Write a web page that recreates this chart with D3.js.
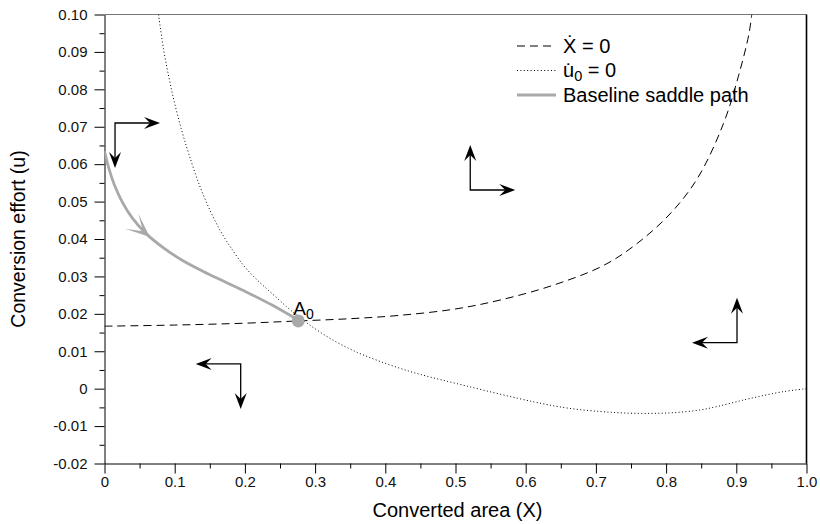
<!DOCTYPE html>
<html>
<head>
<meta charset="utf-8">
<script src="https://cdn.jsdelivr.net/npm/d3@7"></script>
<style>
  body { margin: 0; background: #fff; }
  svg { display: block; font-family: "Liberation Sans", Arial, Helvetica, sans-serif; }
</style>
</head>
<body>
<script>
// X-dot = 0 isocline (dashed)
const xDotX = [0, 0.1, 0.2, 0.276, 0.35, 0.421, 0.5, 0.566, 0.64, 0.7106, 0.7587, 0.807, 0.8456, 0.8818, 0.903, 0.918, 0.922]
const xDotU = [0.0167, 0.0170, 0.0175, 0.0181, 0.0187, 0.0196, 0.0213, 0.0238, 0.0277, 0.0329, 0.0388, 0.0470, 0.0565, 0.0709, 0.0835, 0.0948, 0.100]

// u0-dot = 0 isocline (dotted)
const uDotX = [0.077, 0.084, 0.092, 0.100, 0.110, 0.120, 0.135, 0.150, 0.165, 0.180, 0.200, 0.220, 0.240, 0.260, 0.276, 0.300, 0.330, 0.360, 0.388, 0.420, 0.450, 0.516, 0.611, 0.660, 0.706, 0.740, 0.777, 0.812, 0.848, 0.872, 0.896, 0.920, 0.967, 1.0]
const uDotU = [0.1000, 0.0908, 0.0830, 0.0762, 0.0690, 0.0628, 0.0545, 0.0478, 0.0422, 0.0377, 0.0325, 0.0286, 0.0252, 0.0218, 0.0193, 0.0160, 0.0125, 0.0097, 0.0076, 0.0055, 0.0038, 0.0007, -0.0035, -0.0052, -0.0061, -0.0065, -0.0066, -0.0064, -0.0057, -0.0048, -0.0037, -0.0026, -0.0008, 0.0]

// baseline saddle path (grey)
const saddleX = [0, 0.006, 0.014, 0.025, 0.04, 0.06, 0.085, 0.11, 0.14, 0.17, 0.2026, 0.24, 0.276]
const saddleU = [0.0635, 0.0590, 0.0545, 0.0500, 0.0455, 0.0413, 0.0375, 0.0344, 0.0314, 0.0287, 0.0258, 0.0222, 0.0183]
const saddleArrowAt = 0.065

// steady state A0
const a0X = 0.276
const a0U = 0.0181

// phase arrows: corner, horizontal direction (+1 right), vertical direction (+1 up)
const arrowX = [0.015, 0.521, 0.901, 0.194]
const arrowU = [0.071, 0.0531, 0.0123, 0.0066]
const arrowH = [1, 1, -1, -1]
const arrowV = [-1, 1, 1, -1]

const xTicks = [0, 0.1, 0.2, 0.3, 0.4, 0.5, 0.6, 0.7, 0.8, 0.9, 1.0]
const xTickLabels = ["0", "0.1", "0.2", "0.3", "0.4", "0.5", "0.6", "0.7", "0.8", "0.9", "1.0"]
const xMinor = [0.05, 0.15, 0.25, 0.35, 0.45, 0.55, 0.65, 0.75, 0.85, 0.95]
const yTicks = [-0.02, -0.01, 0, 0.01, 0.02, 0.03, 0.04, 0.05, 0.06, 0.07, 0.08, 0.09, 0.10]
const yTickLabels = ["-0.02", "-0.01", "0", "0.01", "0.02", "0.03", "0.04", "0.05", "0.06", "0.07", "0.08", "0.09", "0.10"]
const yMinor = [-0.015, -0.005, 0.005, 0.015, 0.025, 0.035, 0.045, 0.055, 0.065, 0.075, 0.085, 0.095]

const width = 820
const height = 524
const grey = "#a9a9a9"

const x = d3.scaleLinear().domain([0, 1]).range([104.5, 806.5])
const y = d3.scaleLinear().domain([-0.02, 0.10]).range([463.5, 14.5])

const svg = d3.select("body")
    .append("svg")
    .attr("width", width)
    .attr("height", height)

svg.append("defs")
    .append("clipPath")
    .attr("id", "plot-frame")
    .append("rect")
    .attr("x", x(0))
    .attr("y", y(0.10))
    .attr("width", x(1) - x(0))
    .attr("height", y(-0.02) - y(0.10))

// axes
svg.append("g")
    .attr("transform", `translate(0,${y(-0.02)})`)
    .call(d3.axisBottom(x).tickValues(xTicks).tickFormat((d, i) => xTickLabels[i]).tickSize(10).tickPadding(3).tickSizeOuter(0))
svg.append("g")
    .attr("transform", `translate(0,${y(-0.02)})`)
    .call(d3.axisBottom(x).tickValues(xMinor).tickFormat("").tickSize(5).tickSizeOuter(0))
    .select(".domain").remove()

svg.append("g")
    .attr("transform", `translate(${x(0)},0)`)
    .call(d3.axisLeft(y).tickValues(yTicks).tickFormat((d, i) => yTickLabels[i]).tickSize(10).tickPadding(7).tickSizeOuter(0))
svg.append("g")
    .attr("transform", `translate(${x(0)},0)`)
    .call(d3.axisLeft(y).tickValues(yMinor).tickFormat("").tickSize(5).tickSizeOuter(0))
    .select(".domain").remove()

svg.selectAll(".tick text")
    .attr("font-size", 15)
    .attr("font-family", "Liberation Sans, Arial, sans-serif")
    .attr("fill", "#111")
svg.selectAll(".tick line, .domain").attr("stroke", "#000")

// frame top (grey) and right (black)
svg.append("line")
    .attr("x1", x(0)).attr("x2", x(1))
    .attr("y1", y(0.10)).attr("y2", y(0.10))
    .attr("stroke", "#777").attr("stroke-width", 1.2)
svg.append("line")
    .attr("x1", x(1)).attr("x2", x(1))
    .attr("y1", y(0.10)).attr("y2", y(-0.02))
    .attr("stroke", "#000").attr("stroke-width", 1.6)

// axis titles
svg.append("text")
    .attr("x", (x(0) + x(1)) / 2 + 2)
    .attr("y", 517)
    .attr("text-anchor", "middle")
    .attr("font-size", 20)
    .text("Converted area (X)")
svg.append("text")
    .attr("transform", `translate(25,${(y(-0.02) + y(0.10)) / 2}) rotate(-90)`)
    .attr("text-anchor", "middle")
    .attr("font-size", 19.5)
    .text("Conversion effort (u)")

const plot = svg.append("g").attr("clip-path", "url(#plot-frame)")

const line = d3.line()
    .x(d => x(d[0]))
    .y(d => y(d[1]))
    .curve(d3.curveCatmullRom.alpha(0.5))

plot.append("path")
    .datum(d3.zip(xDotX, xDotU))
    .attr("d", line)
    .attr("fill", "none")
    .attr("stroke", "#000")
    .attr("stroke-width", 1)
    .attr("stroke-dasharray", "8,5")

plot.append("path")
    .datum(d3.zip(uDotX, uDotU))
    .attr("d", line)
    .attr("fill", "none")
    .attr("stroke", "#000")
    .attr("stroke-width", 1)
    .attr("stroke-dasharray", "1,2.4")

const saddle = plot.append("path")
    .datum(d3.zip(saddleX, saddleU))
    .attr("d", line)
    .attr("fill", "none")
    .attr("stroke", grey)
    .attr("stroke-width", 2.8)

// notched arrow head pointing along +x, tip at origin
function headPath (len, hw, notch) {
  return `M0,0L${-len},${-hw}L${-len + notch},0L${-len},${hw}Z`
}

// arrow on the saddle path
{
  let node = saddle.node()
  let total = node.getTotalLength()
  let target = x(saddleArrowAt)
  let best = 0
  for (let l = 0; l < total; l += 0.5) {
    if (node.getPointAtLength(l).x <= target) best = l
  }
  let p = node.getPointAtLength(best)
  let q = node.getPointAtLength(best + 1)
  let angle = Math.atan2(q.y - p.y, q.x - p.x) * 180 / Math.PI
  svg.append("path")
      .attr("d", headPath(24, 10, 15))
      .attr("transform", `translate(${p.x},${p.y}) rotate(${angle})`)
      .attr("fill", grey)
}

// phase arrows
const arrowLen = 45
for (let i = 0; i < arrowX.length; i++) {
  let cx = x(arrowX[i])
  let cy = y(arrowU[i])
  let hx = cx + arrowH[i] * arrowLen
  let vy = cy - arrowV[i] * arrowLen
  let g = svg.append("g")
  g.append("path")
      .attr("d", `M${hx - arrowH[i] * 8},${cy}L${cx},${cy}L${cx},${vy + arrowV[i] * 8}`)
      .attr("fill", "none")
      .attr("stroke", "#000")
      .attr("stroke-width", 1.3)
  g.append("path")
      .attr("d", headPath(16, 6, 6))
      .attr("transform", `translate(${hx},${cy}) rotate(${arrowH[i] > 0 ? 0 : 180})`)
      .attr("fill", "#000")
  g.append("path")
      .attr("d", headPath(16, 6, 6))
      .attr("transform", `translate(${cx},${vy}) rotate(${arrowV[i] > 0 ? -90 : 90})`)
      .attr("fill", "#000")
}

// steady state
svg.append("circle")
    .attr("cx", x(a0X))
    .attr("cy", y(a0U))
    .attr("r", 6.5)
    .attr("fill", grey)

const a0Label = svg.append("text")
    .attr("x", x(a0X) - 5)
    .attr("y", y(a0U) - 6)
    .attr("font-size", 19)
a0Label.append("tspan").text("A")
a0Label.append("tspan").attr("font-size", 14).attr("dy", 4).text("0")

// legend
const legend = svg.append("g")
const legendRows = [
  {dash: "8,5", color: "#000", w: 1, y: 46},
  {dash: "1,2.4", color: "#000", w: 1, y: 70.5},
  {dash: null, color: grey, w: 2.8, y: 95}
]
legendRows.forEach(r => {
  legend.append("line")
      .attr("x1", 517).attr("x2", 556)
      .attr("y1", r.y).attr("y2", r.y)
      .attr("stroke", r.color)
      .attr("stroke-width", r.w)
      .attr("stroke-dasharray", r.dash)
})
legend.append("text")
    .attr("x", 563).attr("y", 52.5)
    .attr("font-size", 20)
    .text("\u1E8A = 0")
const uLabel = legend.append("text")
    .attr("x", 563).attr("y", 77)
    .attr("font-size", 20)
uLabel.append("tspan").text("u\u0307")
uLabel.append("tspan").attr("font-size", 14.5).attr("dy", 4).text("0")
uLabel.append("tspan").attr("dy", -4).text(" = 0")
legend.append("text")
    .attr("x", 563).attr("y", 101.5)
    .attr("font-size", 20)
    .text("Baseline saddle path")
</script>
</body>
</html>
